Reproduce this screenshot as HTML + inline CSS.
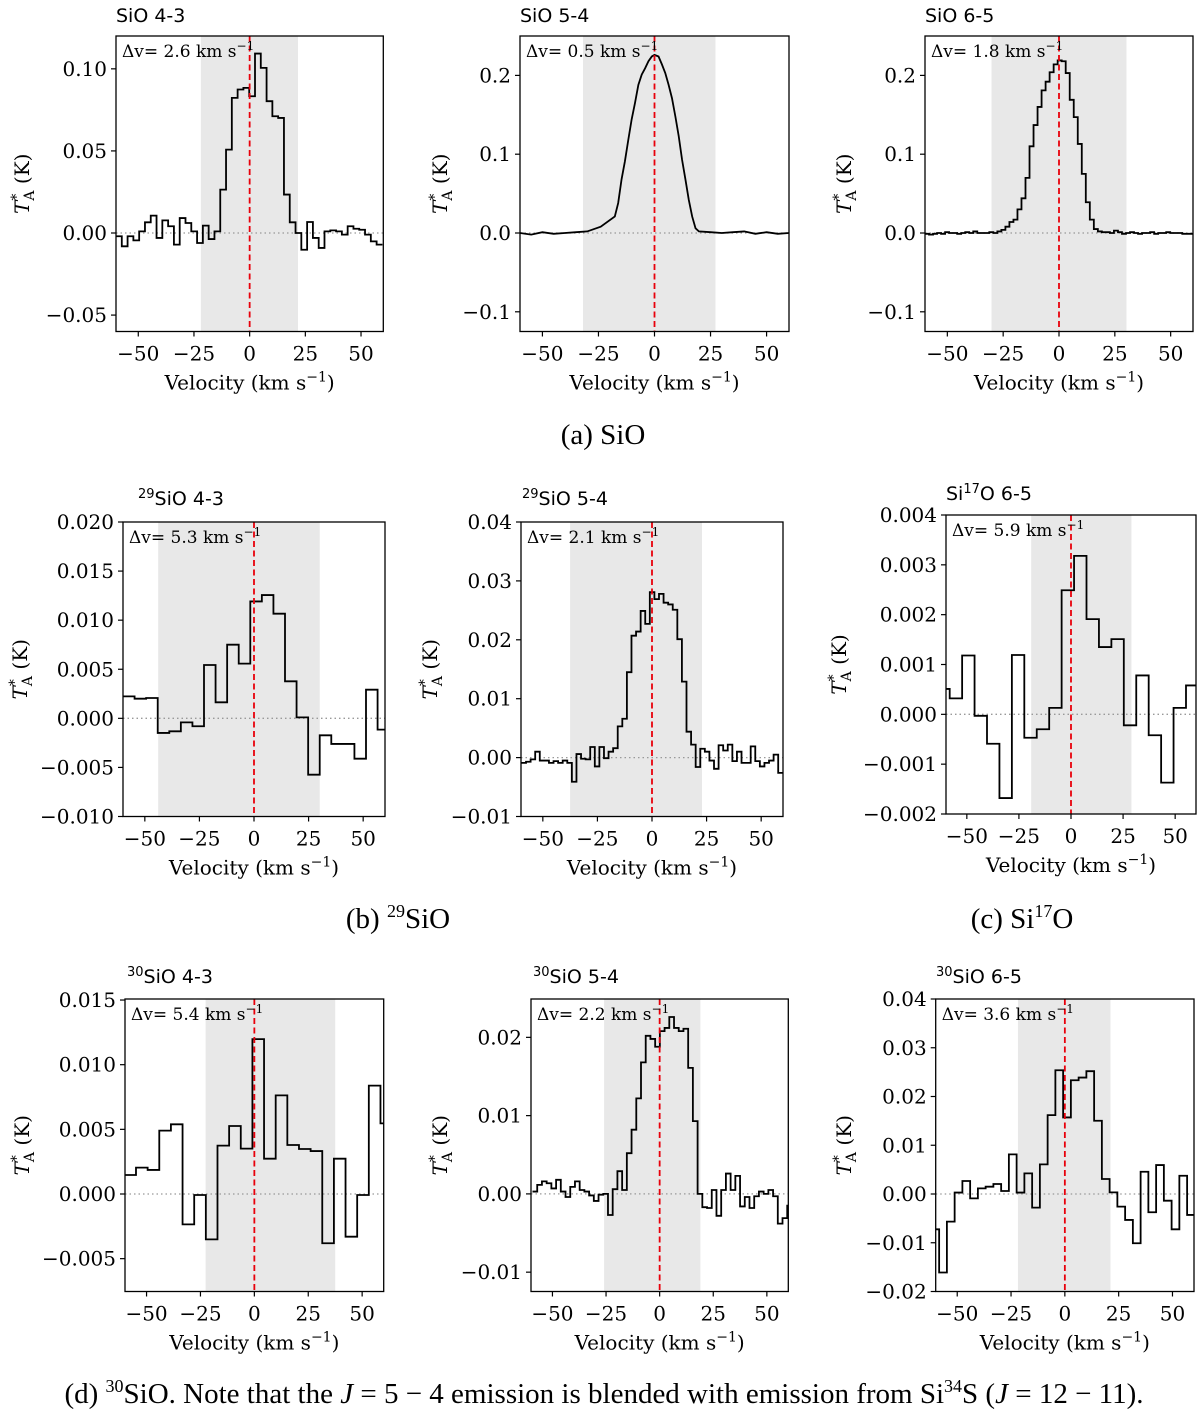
<!DOCTYPE html>
<html><head><meta charset="utf-8"><style>
html,body{margin:0;padding:0;background:#fff;}
svg{display:block;}
</style></head><body>
<svg id="fig" width="1200" height="1415" viewBox="0 0 1200 1415" xmlns="http://www.w3.org/2000/svg"></svg>
<script>
// ---------- DATA ----------
const p1Start = -60, p1Width = 2.6;
const p1Values = [-0.002,-0.0081,-0.002,-0.0045,0.001,0.0065,0.0106,-0.003,0.0077,0.0041,-0.0071,0.0091,0.0061,0.001,-0.0061,0.0045,-0.0037,0.001,0.0264,0.0508,0.0823,0.0874,0.0884,0.0833,0.1093,0.1006,0.0803,0.0711,0.0701,0.0234,0.0065,0,-0.0102,0.0067,-0.003,-0.0091,0.001,0.0016,0.001,-0.001,0.0041,0.0026,0.002,-0.001,-0.0051,-0.0071];

const p2Velocities = [-60,-55,-50,-45,-40,-35,-30,-27,-24,-17.7,-16.2,-14.7,-13.2,-11.7,-10.2,-8.7,-7.2,-5.7,-4.2,-2.7,-1.2,0,1.8,3.3,4.8,6.3,7.8,9.3,10.8,12.3,13.8,15.3,16.8,18.3,19.8,25,30,35,40,45,50,55,60];
const p2Values = [0.0,-0.002,0.001,-0.001,0.0,0.001,0.002,0.005,0.008,0.021,0.038,0.068,0.091,0.118,0.144,0.165,0.188,0.201,0.209,0.218,0.224,0.226,0.224,0.214,0.203,0.188,0.171,0.148,0.123,0.093,0.068,0.042,0.021,0.006,0.002,0.001,0.0,0.001,0.002,-0.001,0.001,-0.001,0.0];

const p3Start = -60, p3Width = 1.8;
const p3Values = [-0.001,-0.002,-0.001,0.0,-0.001,0.001,0.0,0.0,-0.001,0.0,0.001,0.0,0.002,0.0,0.0,0.0,0.001,0.0,0.002,
0.004,0.008,0.014,0.017,0.030,0.044,0.070,0.110,0.137,0.160,0.181,0.192,0.204,0.214,0.219,0.218,0.203,0.169,0.147,0.113,0.075,0.039,0.017,0.005,0.002,0.001,
0.001,0.0,0.003,0.001,-0.001,0.0,0.001,0.0,-0.001,0.0,0.0,0.001,-0.001,0.0,0.0,0.001,0.0,0.0,0.0,-0.001,-0.001,-0.001];

const p4Start = -60, p4Width = 5.3;
const p4Values = [0.00224,0.0020,0.00207,-0.00149,-0.00132,-0.00041,-0.00081,0.00543,0.00163,0.0075,0.00557,0.01191,0.01256,0.01066,0.00377,0.0001,-0.00574,-0.00173,-0.00261,-0.00261,-0.00411,0.00292,-0.00115];

const p5Start = -59.8, p5Width = 2.1;
const p5Values = [-0.0009,-0.0007,-0.0003,0.001,-0.0005,-0.0005,-0.0009,-0.0006,-0.0009,-0.0005,-0.0009,-0.0041,0.0006,-0.0002,-0.0003,0.0018,-0.0015,0.0018,-0.0001,0.001,0.0016,0.0053,0.0066,0.0145,0.0207,0.0214,0.0249,0.0227,0.0281,0.0269,0.0278,0.0263,0.026,0.0251,0.0201,0.0129,0.0044,0.0022,-0.0016,0.0015,0.001,-0.0005,-0.0019,0.0021,0.0012,0.0022,-0.0006,0.001,-0.0009,-0.0009,0.0019,-0.0006,-0.0015,-0.0009,-0.0005,0.0005,-0.0026];

const p6Start = -64.2, p6Width = 5.97;
const p6Values = [0.00051,0.00032,0.00118,-0.00003,-0.00059,-0.00168,0.00119,-0.00047,-0.0003,0.00013,0.00249,0.00318,0.00191,0.00135,0.00151,-0.00022,0.00078,-0.00042,-0.00137,0.00013,0.00058];

const p7Start = -60.3, p7Width = 5.4;
const p7Values = [0.00147,0.00204,0.00186,0.0049,0.00539,-0.00235,-0.00008,-0.00351,0.00374,0.00526,0.00351,0.01198,0.00273,0.00763,0.00379,0.00348,0.00332,-0.00381,0.00273,-0.0033,-0.00008,0.00838,0.00546];

const p8Start = -59.3, p8Width = 2.2;
const p8Values = [0.0003,0.00115,0.0016,0.00136,0.0007,0.0018,0.0003,-0.0004,0.0009,0.0016,0.0005,0.0003,-0.0002,-0.0009,-0.0001,0,-0.0027,0.0006,0.0029,0.0005,0.0052,0.0082,0.0122,0.0168,0.0202,0.0198,0.0188,0.0208,0.0212,0.0226,0.0212,0.0208,0.0211,0.0161,0.0093,0,-0.0017,-0.0018,0.0005,-0.0028,0.0005,0.0026,0.0005,0.0023,-0.0016,-0.0004,-0.0018,-0.0003,0.0003,0,0.0005,-0.0003,-0.0038,-0.0031,-0.0015];

const p9Start = -62, p9Width = 3.6;
const p9Values = [-0.00724,-0.0161,-0.00567,0.0003,0.00266,-0.00089,0.00116,0.0015,0.00205,0.00061,0.00812,0.0003,0.00423,-0.0028,0.00608,0.01618,0.02539,0.0157,0.02334,0.02389,0.02519,0.01502,0.00307,0.00034,-0.00259,-0.00532,-0.0101,0.00457,-0.00375,0.00594,-0.00137,-0.00724,0.00375,-0.0043];

const xTickValues = [-50,-25,0,25,50];
const p1YTicks = [-0.05,0,0.05,0.10];
const p1YLabels = ["−0.05","0.00","0.05","0.10"];
const p23YTicks = [-0.1,0,0.1,0.2];
const p23YLabels = ["−0.1","0.0","0.1","0.2"];
const p4YTicks = [-0.01,-0.005,0,0.005,0.01,0.015,0.02];
const p4YLabels = ["−0.010","−0.005","0.000","0.005","0.010","0.015","0.020"];
const p5YTicks = [-0.01,0,0.01,0.02,0.03,0.04];
const p5YLabels = ["−0.01","0.00","0.01","0.02","0.03","0.04"];
const p6YTicks = [-0.002,-0.001,0,0.001,0.002,0.003,0.004];
const p6YLabels = ["−0.002","−0.001","0.000","0.001","0.002","0.003","0.004"];
const p7YTicks = [-0.005,0,0.005,0.01,0.015];
const p7YLabels = ["−0.005","0.000","0.005","0.010","0.015"];
const p8YTicks = [-0.01,0,0.01,0.02];
const p8YLabels = ["−0.01","0.00","0.01","0.02"];
const p9YTicks = [-0.02,-0.01,0,0.01,0.02,0.03,0.04];
const p9YLabels = ["−0.02","−0.01","0.00","0.01","0.02","0.03","0.04"];

// ---------- LAYOUT ----------
const NS = "http://www.w3.org/2000/svg";
const svg = document.getElementById('fig');
const SERIF = '"DejaVu Serif", "Liberation Serif", serif';
const SANS = '"DejaVu Sans", "Liberation Sans", sans-serif';

function mk(tag, attrs, parent){
  const e = document.createElementNS(NS, tag);
  for (const k in attrs) e.setAttribute(k, attrs[k]);
  (parent||svg).appendChild(e);
  return e;
}

const panels = [
 {id:'sio-4-3', x0:116,x1:383.3,y0:36,y1:331.5,ymin:-0.06,ymax:0.12,yt:p1YTicks,yl:p1YLabels,sh:[-21.9,21.7],dv:'2.6',
  kind:'step',start:p1Start,width:p1Width,vals:p1Values,iso:'',mol:'SiO 4-3',ty:22,tx:116,ylx:22},
 {id:'sio-5-4', x0:520,x1:789,y0:36,y1:331.5,ymin:-0.125,ymax:0.25,yt:p23YTicks,yl:p23YLabels,sh:[-31.9,27.2],dv:'0.5',
  kind:'line',vel:p2Velocities,vals:p2Values,iso:'',mol:'SiO 5-4',ty:22,tx:520,ylx:440},
 {id:'sio-6-5', x0:925,x1:1193,y0:36,y1:331.5,ymin:-0.125,ymax:0.25,yt:p23YTicks,yl:p23YLabels,sh:[-30.2,30.2],dv:'1.8',
  kind:'step',start:p3Start,width:p3Width,vals:p3Values,iso:'',mol:'SiO 6-5',ty:22,tx:925,ylx:844},
 {id:'29sio-4-3', x0:123,x1:385,y0:522,y1:816.5,ymin:-0.01,ymax:0.02,yt:p4YTicks,yl:p4YLabels,sh:[-43.9,30.1],dv:'5.3',
  kind:'step',start:p4Start,width:p4Width,vals:p4Values,iso:'29',mol:'SiO 4-3',ty:505,tx:138,ylx:20},
 {id:'29sio-5-4', x0:521,x1:783,y0:522,y1:816.5,ymin:-0.01,ymax:0.04,yt:p5YTicks,yl:p5YLabels,sh:[-37.5,22.9],dv:'2.1',
  kind:'step',start:p5Start,width:p5Width,vals:p5Values,iso:'29',mol:'SiO 5-4',ty:505,tx:522,ylx:430},
 {id:'si17o-6-5', x0:946,x1:1196,y0:515,y1:814,ymin:-0.002,ymax:0.004,yt:p6YTicks,yl:p6YLabels,sh:[-19.1,29],dv:'5.9',
  kind:'step',start:p6Start,width:p6Width,vals:p6Values,iso:'17',mol:'Si17O',ty:500,tx:946,ylx:839},
 {id:'30sio-4-3', x0:125,x1:383.7,y0:999,y1:1291.5,ymin:-0.00754,ymax:0.01508,yt:p7YTicks,yl:p7YLabels,sh:[-22.6,37.5],dv:'5.4',
  kind:'step',start:p7Start,width:p7Width,vals:p7Values,iso:'30',mol:'SiO 4-3',ty:983,tx:127,ylx:22},
 {id:'30sio-5-4', x0:531,x1:788.3,y0:999,y1:1291.5,ymin:-0.01247,ymax:0.0249,yt:p8YTicks,yl:p8YLabels,sh:[-25.9,19],dv:'2.2',
  kind:'step',start:p8Start,width:p8Width,vals:p8Values,iso:'30',mol:'SiO 5-4',ty:983,tx:533,ylx:440},
 {id:'30sio-6-5', x0:935.7,x1:1194,y0:999,y1:1291.5,ymin:-0.02,ymax:0.04,yt:p9YTicks,yl:p9YLabels,sh:[-21.8,21.2],dv:'3.6',
  kind:'step',start:p9Start,width:p9Width,vals:p9Values,iso:'30',mol:'SiO 6-5',ty:983,tx:936,ylx:844},
];

panels.forEach((p, i) => {
  const g = mk('g', {});
  
  
  const xmin = -60, xmax = 60;
  const X = v => p.x0 + (v - xmin) / (xmax - xmin) * (p.x1 - p.x0);
  const Y = t => p.y1 - (t - p.ymin) / (p.ymax - p.ymin) * (p.y1 - p.y0);

  const clip = mk('clipPath', {id:'clip'+i}, g);
  mk('rect', {x:p.x0, y:p.y0, width:p.x1-p.x0, height:p.y1-p.y0}, clip);

  const shade = mk('rect', {x:X(p.sh[0]), y:p.y0, width:X(p.sh[1])-X(p.sh[0]), height:p.y1-p.y0, fill:'#e8e8e8'}, g);
  
  

  const zero = mk('line', {x1:p.x0, x2:p.x1, y1:Y(0), y2:Y(0), stroke:'#999', 'stroke-width':1.3, 'stroke-dasharray':'1.5,3'}, g);
  
  

  let d = '';
  if (p.kind === 'step') {
    p.vals.forEach((val, k) => {
      const a = X(p.start + k*p.width), b = X(p.start + (k+1)*p.width), y = Y(val);
      d += (k === 0 ? 'M' + a.toFixed(2) + ',' + y.toFixed(2) : 'V' + y.toFixed(2)) + 'H' + b.toFixed(2);
    });
  } else {
    p.vals.forEach((val, k) => {
      d += (k === 0 ? 'M' : 'L') + X(p.vel[k]).toFixed(2) + ',' + Y(val).toFixed(2);
    });
  }
  const spec = mk('path', {d:d, fill:'none', stroke:'#000', 'stroke-width':1.8, 'stroke-linejoin':'miter', 'clip-path':'url(#clip'+i+')'}, g);
  
  

  const vline = mk('line', {x1:X(0), x2:X(0), y1:p.y0, y2:p.y1, stroke:'#e8000b', 'stroke-width':1.8, 'stroke-dasharray':'6,3.5'}, g);
  
  

  const frame = mk('rect', {x:p.x0, y:p.y0, width:p.x1-p.x0, height:p.y1-p.y0, fill:'none', stroke:'#000', 'stroke-width':1.3}, g);
  
  

  xTickValues.forEach(v => {
    const t = mk('line', {x1:X(v), x2:X(v), y1:p.y1, y2:p.y1+5, stroke:'#000', 'stroke-width':1.2}, g);
    
    
    const lab = mk('text', {x:X(v), y:p.y1+29, 'text-anchor':'middle', 'font-family':SERIF, 'font-size':20}, g);
    lab.textContent = v < 0 ? '−' + Math.abs(v) : String(v);
    
    
  });
  p.yt.forEach((v, k) => {
    const t = mk('line', {x1:p.x0-5, x2:p.x0, y1:Y(v), y2:Y(v), stroke:'#000', 'stroke-width':1.2}, g);
    
    
    const lab = mk('text', {x:p.x0-9, y:Y(v)+7, 'text-anchor':'end', 'font-family':SERIF, 'font-size':20}, g);
    lab.textContent = p.yl[k];
    
    
  });

  const xl = mk('text', {x:(p.x0+p.x1)/2, y:p.y1+58, 'text-anchor':'middle', 'font-family':SERIF, 'font-size':20}, g);
  xl.innerHTML = 'Velocity (km s<tspan dy="-8" font-size="14">−1</tspan><tspan dy="8">)</tspan>';
  
  

  const cy = (p.y0 + p.y1) / 2;
  const yl = mk('text', {x:0, y:0, 'text-anchor':'middle', 'font-family':SERIF, 'font-size':20, transform:'translate('+(p.ylx+7)+','+cy+') rotate(-90)'}, g);
  yl.innerHTML = '<tspan font-style="italic">T</tspan><tspan dy="-8" font-size="14">*</tspan><tspan dy="13" dx="-7" font-size="14">A</tspan><tspan dy="-5"> (K)</tspan>';
  
  

  const dvt = mk('text', {x:p.x0+6, y:p.y0+21, 'font-family':SERIF, 'font-size':17}, g);
  dvt.innerHTML = 'Δv= ' + p.dv + ' km s<tspan dy="-7" font-size="12">−1</tspan>';
  
  

  const title = mk('text', {x:p.tx, y:p.ty, 'font-family':SANS, 'font-size':19}, g);
  if (p.id === 'si17o-6-5') {
    title.innerHTML = 'Si<tspan dy="-7" font-size="13">17</tspan><tspan dy="7">O 6-5</tspan>';
  } else if (p.iso) {
    title.innerHTML = '<tspan dy="-7" font-size="13">' + p.iso + '</tspan><tspan dy="7">' + p.mol + '</tspan>';
  } else {
    title.textContent = p.mol;
  }
  
  
});

const CAP = '"Liberation Serif", "DejaVu Serif", serif';
const caps = [
  {x:603, y:444, html:'(a)  SiO', name:'caption-a'},
  {x:398, y:928, html:'(b)  <tspan dy="-11" font-size="18">29</tspan><tspan dy="11">SiO</tspan>', name:'caption-b'},
  {x:1022, y:928, html:'(c)  Si<tspan dy="-11" font-size="18">17</tspan><tspan dy="11">O</tspan>', name:'caption-c'},
  {x:604, y:1403, html:'(d)  <tspan dy="-11" font-size="18">30</tspan><tspan dy="11">SiO. Note that the </tspan><tspan font-style="italic">J</tspan> = 5 − 4 emission is blended with emission from Si<tspan dy="-11" font-size="18">34</tspan><tspan dy="11">S (</tspan><tspan font-style="italic">J</tspan> = 12 − 11).', name:'caption-d'}
];
caps.forEach(c => {
  const t = mk('text', {x:c.x, y:c.y, 'text-anchor':'middle', 'font-family':CAP, 'font-size':29});
  t.innerHTML = c.html;
  
  
});
</script>
</body></html>
